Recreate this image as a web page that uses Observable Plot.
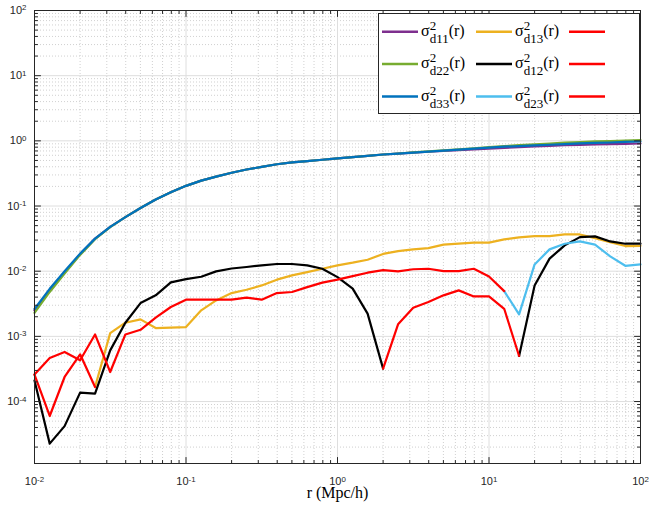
<!DOCTYPE html>
<html><head><meta charset="utf-8">
<script src="https://cdn.jsdelivr.net/npm/d3@7"></script>
<script src="https://cdn.jsdelivr.net/npm/@observablehq/plot@0.6"></script>
<style>body{margin:0;background:#fff} #chart{width:651px;height:508px}</style>
</head><body><div id="chart"></div>
<script>
// r (Mpc/h) sample points
const r = [0.01,0.0126,0.0158,0.02,0.0251,0.0316,0.0398,0.0501,0.0631,0.0794,
  0.1,0.126,0.158,0.2,0.251,0.316,0.398,0.501,0.631,0.794,
  1,1.26,1.58,2,2.51,3.16,3.98,5.01,6.31,7.94,
  10,12.6,15.8,20,25.1,31.6,39.8,50.1,63.1,79.4,100];

const d11 = [2.5e-3,5.1e-3,9.6e-3,1.82e-2,3.16e-2,4.79e-2,6.76e-2,9.33e-2,0.126,0.162,
  0.204,0.245,0.282,0.324,0.363,0.398,0.437,0.468,0.490,0.513,
  0.537,0.562,0.589,0.617,0.638,0.661,0.680,0.700,0.720,0.740,
  0.760,0.780,0.800,0.820,0.840,0.860,0.870,0.880,0.890,0.900,0.910];
const d22 = [2.3e-3,4.8e-3,9.2e-3,1.78e-2,3.1e-2,4.75e-2,6.76e-2,9.33e-2,0.126,0.162,
  0.204,0.245,0.282,0.324,0.363,0.398,0.437,0.468,0.490,0.513,
  0.537,0.562,0.589,0.617,0.640,0.665,0.690,0.715,0.740,0.770,
  0.800,0.830,0.860,0.880,0.910,0.940,0.960,0.980,0.990,1.01,1.03];
const d33 = [2.63e-3,5.37e-3,1.0e-2,1.86e-2,3.16e-2,4.79e-2,6.76e-2,9.33e-2,0.126,0.162,
  0.204,0.245,0.282,0.324,0.363,0.398,0.437,0.468,0.490,0.513,
  0.537,0.562,0.589,0.617,0.638,0.661,0.684,0.708,0.733,0.759,
  0.785,0.813,0.832,0.851,0.871,0.891,0.912,0.933,0.944,0.966,0.977];
const d13 = [null,null,null,null,1.67e-4,1.12e-3,1.62e-3,1.82e-3,1.34e-3,1.36e-3,
  1.39e-3,2.51e-3,3.56e-3,4.61e-3,5.2e-3,6.05e-3,7.41e-3,8.63e-3,9.68e-3,1.09e-2,
  1.23e-2,1.35e-2,1.5e-2,1.84e-2,2.03e-2,2.16e-2,2.26e-2,2.55e-2,2.64e-2,2.74e-2,
  2.74e-2,3.08e-2,3.31e-2,3.45e-2,3.45e-2,3.66e-2,3.66e-2,3.22e-2,2.79e-2,2.43e-2,2.45e-2];
const d12 = [2.1e-4,2.26e-5,4.2e-5,1.37e-4,1.32e-4,6.1e-4,1.62e-3,3.24e-3,4.26e-3,6.73e-3,
  7.57e-3,8.22e-3,9.93e-3,1.10e-2,1.16e-2,1.23e-2,1.29e-2,1.29e-2,1.23e-2,1.09e-2,
  8.1e-3,5.4e-3,2.23e-3,3.2e-4,null,null,null,null,null,null,
  null,null,5.0e-4,6.05e-3,1.56e-2,2.49e-2,3.33e-2,3.42e-2,2.86e-2,2.64e-2,2.64e-2];
const d23 = [null,null,null,null,null,null,null,null,null,null,
  null,null,null,null,null,null,null,null,null,null,
  null,null,null,null,null,null,null,null,null,null,
  null,4.95e-3,2.17e-3,1.27e-2,2.16e-2,2.64e-2,2.86e-2,2.55e-2,1.69e-2,1.21e-2,1.27e-2];
// negative parts (|value|), drawn in red
const d13neg = [2.59e-4,6.0e-5,2.38e-4,5.3e-4,1.67e-4,null,null,null,null,null,
  null,null,null,null,null,null,null,null,null,null,
  null,null,null,null,null,null,null,null,null,null,
  null,null,null,null,null,null,null,null,null,null,null];
const d12neg = [null,null,null,null,null,null,null,null,null,null,
  null,null,null,null,null,null,null,null,null,null,
  null,null,null,3.2e-4,1.53e-3,2.75e-3,3.36e-3,4.26e-3,5.08e-3,4.1e-3,
  4.1e-3,2.65e-3,5.0e-4,null,null,null,null,null,null,null,null];
const d23neg = [2.59e-4,4.65e-4,5.75e-4,4.29e-4,1.07e-3,2.84e-4,1.07e-3,1.26e-3,1.94e-3,2.82e-3,
  3.66e-3,3.66e-3,3.66e-3,3.66e-3,3.92e-3,3.66e-3,4.61e-3,4.79e-3,5.7e-3,6.67e-3,
  7.41e-3,8.41e-3,9.48e-3,1.04e-2,9.93e-3,1.07e-2,1.09e-2,1.0e-2,1.0e-2,1.09e-2,
  8.3e-3,4.95e-3,null,null,null,null,null,null,null,null,null];

const seriesNames = ["d11","d22","d33","d13","d12","d23","neg13","neg12","neg23"];
const seriesValues = [d11,d22,d33,d13,d12,d23,d13neg,d12neg,d23neg];
const seriesColors = ["#7E2F8E","#77AC30","#0072BD","#EDB120","#000000","#4DBEEE","#FF0000","#FF0000","#FF0000"];
const legendLabels = ["d11","d22","d33","d13","d12","d23",null,null,null];

const xMajor = [0.01,0.1,1,10,100];
const yMajor = [1e-4,1e-3,1e-2,1e-1,1,10,100];
const yDecades = [1e-5,1e-4,1e-3,1e-2,1e-1,1,10];
const mult = [2,3,4,5,6,7,8,9];
const xMinor = xMajor.slice(0,-1).flatMap(d => mult.map(m => m*d));
const yMinor = yDecades.flatMap(d => mult.map(m => m*d));

const tickShape = {draw(ctx, l){ ctx.moveTo(0,0); ctx.lineTo(0,-l); }};
const axisColor = "#262626";
function ticks(data, dim, anchor, rotate, len){
  const o = {frameAnchor: anchor, rotate, length: len, anchor: "start", shape: tickShape, stroke: axisColor, strokeWidth: 1};
  o[dim] = d => d;
  return Plot.vector(data, o);
}
const fmt = d => "10^" + Math.round(Math.log10(d));

const lineMarks = seriesValues.map((vals, i) =>
  Plot.line(r.map((x, j) => ({x, y: vals[j]})), {x: "x", y: "y", stroke: seriesColors[i], strokeWidth: 2.2, strokeLinejoin: "round"}));

const plot = Plot.plot({
  width: 651, height: 508,
  marginLeft: 34, marginRight: 11, marginTop: 10, marginBottom: 45,
  x: {type: "log", domain: [0.01, 100]},
  y: {type: "log", domain: [1.12e-5, 100]},
  style: {fontFamily: "'Liberation Sans', Arial, sans-serif", fontSize: "11px", color: axisColor, background: "#fff"},
  marks: [
    Plot.ruleX(xMinor, {stroke: "#c4c4c4", strokeDasharray: "1,2", strokeWidth: 0.8}),
    Plot.ruleY(yMinor, {stroke: "#c4c4c4", strokeDasharray: "1,2", strokeWidth: 0.8}),
    Plot.ruleX(xMajor, {stroke: "#dedede"}),
    Plot.ruleY(yMajor, {stroke: "#dedede"}),
    ...lineMarks,
    ticks(xMajor, "x", "bottom", 0, 6), ticks(xMinor, "x", "bottom", 0, 3),
    ticks(xMajor, "x", "top", 180, 6), ticks(xMinor, "x", "top", 180, 3),
    ticks(yMajor, "y", "left", 90, 6), ticks(yMinor, "y", "left", 90, 3),
    ticks(yMajor, "y", "right", -90, 6), ticks(yMinor, "y", "right", -90, 3),
    Plot.frame({stroke: axisColor}),
    Plot.axisX(xMajor, {tickSize: 0, tickPadding: 14, tickFormat: fmt, label: null}),
    Plot.axisY(yMajor, {tickSize: 0, tickPadding: 8, tickFormat: fmt, label: null}),
    Plot.text(["r (Mpc/h)"], {frameAnchor: "bottom", dy: 34, fontFamily: "'Liberation Serif', 'Times New Roman', serif", fontSize: 16, fill: "#000"})
  ]
});

// superscript exponents in tick labels
plot.querySelectorAll("text").forEach(t => {
  const m = /^10\^(-?\d+)$/.exec(t.textContent);
  if (m) {
    t.textContent = "10";
    const ts = document.createElementNS("http://www.w3.org/2000/svg", "tspan");
    ts.setAttribute("dy", "-0.45em");
    ts.setAttribute("font-size", "0.72em");
    ts.textContent = m[1];
    t.appendChild(ts);
  }
});

// legend (inside axes, upper right)
const svg = d3.select(plot);
const lg = svg.append("g").attr("text-anchor", "start");
lg.append("rect").attr("x", 378.5).attr("y", 13.5).attr("width", 261).attr("height", 100)
  .attr("fill", "#fff").attr("stroke", axisColor).attr("stroke-width", 1);
const rowY = [31.7, 64, 96.5];
const colX = [382, 476, 569];
// column-major order: col1 d11,d22,d33; col2 d13,d12,d23; col3 red
seriesNames.forEach((name, i) => {
  const col = Math.floor(i / 3), row = i % 3;
  const x0 = colX[col], y0 = rowY[row];
  lg.append("line").attr("x1", x0).attr("x2", x0 + 36).attr("y1", y0).attr("y2", y0)
    .attr("stroke", seriesColors[i]).attr("stroke-width", 2.5);
  if (legendLabels[i]) {
    const t = lg.append("text").attr("x", x0 + 39).attr("y", y0 + 4).attr("text-anchor", "start")
      .attr("font-family", "'Liberation Serif', 'Times New Roman', serif").attr("font-size", 16).attr("fill", "#000");
    t.append("tspan").text("σ");
    t.append("tspan").attr("dy", -6).attr("font-size", 13).text("2");
    t.append("tspan").attr("dx", -6.5).attr("dy", 13).attr("font-size", 13).text(legendLabels[i]);
    t.append("tspan").attr("dy", -7).text("(r)");
  }
});

document.getElementById("chart").appendChild(plot);
</script>
</body></html>
